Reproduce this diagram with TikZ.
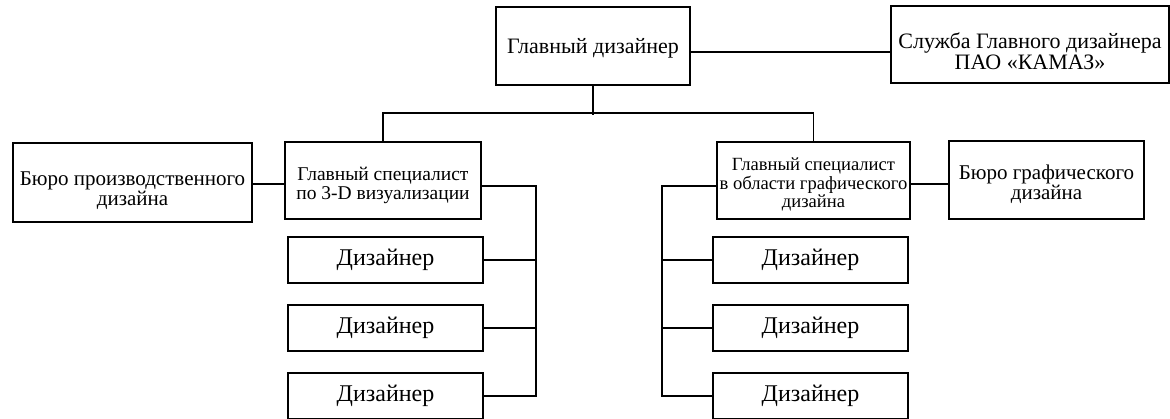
\documentclass[tikz,border=0pt]{standalone}
\usepackage{fontspec}
\setmainfont{Liberation Serif}
\begin{document}
\begin{tikzpicture}[x=1pt,y=-1pt,
  box/.style={draw, line width=1.8pt, inner sep=0pt},
  txt/.style={inner sep=0pt, align=center},
  conn/.style={line width=1.6pt},
  ftop/.style={font=\fontsize{22}{21}\selectfont},
  fbur/.style={font=\fontsize{21}{20}\selectfont},
  fspec/.style={font=\fontsize{19.5}{18.5}\selectfont},
  fspecb/.style={font=\fontsize{18.6}{18.3}\selectfont},
  fdes/.style={font=\fontsize{24}{24}\selectfont},
  des/.style={box, fdes, minimum width=195pt, minimum height=46pt}]
\useasboundingbox (0,0) rectangle (1170,418);
% top level boxes
\node[box, minimum width=194pt, minimum height=78pt] (gd) at (593,46) {};
\node[txt, ftop] (gdt) at ([yshift=-2pt]gd.center) {Главный дизайнер};
\node[box, minimum width=278pt, minimum height=77pt] (svc) at (1030,44.5) {};
\node[txt, ftop] (svct) at ([yshift=-7pt]svc.center) {Служба Главного дизайнера\\ПАО «КАМАЗ»};
% second level
\node[box, minimum width=196pt, minimum height=77pt] (s3d) at (383,180.5) {};
\node[txt, fspec] (s3dt) at ([yshift=-5pt]s3d.center) {Главный специалист\\по 3-D визуализации};
\node[box, minimum width=193pt, minimum height=77pt] (sgr) at (813.5,180.5) {};
\node[txt, fspecb] (sgrt) at ([yshift=-4pt]sgr.center) {Главный специалист\\в области графического\\дизайна};
\node[box, minimum width=239pt, minimum height=79pt] (bpd) at (132.5,182.5) {};
\node[txt, fbur] (bpdt) at ([yshift=-8pt]bpd.center) {Бюро производственного\\дизайна};
\node[box, minimum width=195pt, minimum height=78pt] (bgd) at (1046.5,180) {};
\node[txt, fbur] (bgdt) at ([yshift=-4pt]bgd.center) {Бюро графического\\дизайна};
% designers
\node[des] (d11) at (385.5,260) {Дизайнер};
\node[des] (d12) at (385.5,328) {Дизайнер};
\node[des] (d13) at (385.5,396) {Дизайнер};
\node[des] (d21) at (810.5,260) {Дизайнер};
\node[des] (d22) at (810.5,328) {Дизайнер};
\node[des] (d23) at (810.5,396) {Дизайнер};
\coordinate (bl) at (536,0);
\coordinate (br) at (662,0);
% connectors
\draw[conn] ([yshift=-6pt]gd.east) -- ([yshift=-6pt]gd.east -| svc.west);
\draw[conn] (gd.south) -- ++(0,29);
\draw[conn] (s3d.north) -- ++(0,-28) -| (sgr.north);
\draw[conn] ([yshift=-1.5pt]bpd.east) -- ([yshift=-1.5pt]bpd.east -| s3d.west);
\draw[conn] ([yshift=-3.5pt]sgr.east) -- ([yshift=-3.5pt]sgr.east -| bgd.west);
\draw[conn] ([yshift=-5.5pt]s3d.east) -| (bl |- d13.east) -- (d13.east);
\draw[conn] (d11.east) -- (bl |- d11.east);
\draw[conn] (d12.east) -- (bl |- d12.east);
\draw[conn] ([yshift=-5.5pt]sgr.west) -| (br |- d23.west) -- (d23.west);
\draw[conn] (d21.west) -- (br |- d21.west);
\draw[conn] (d22.west) -- (br |- d22.west);
\end{tikzpicture}
\end{document}
